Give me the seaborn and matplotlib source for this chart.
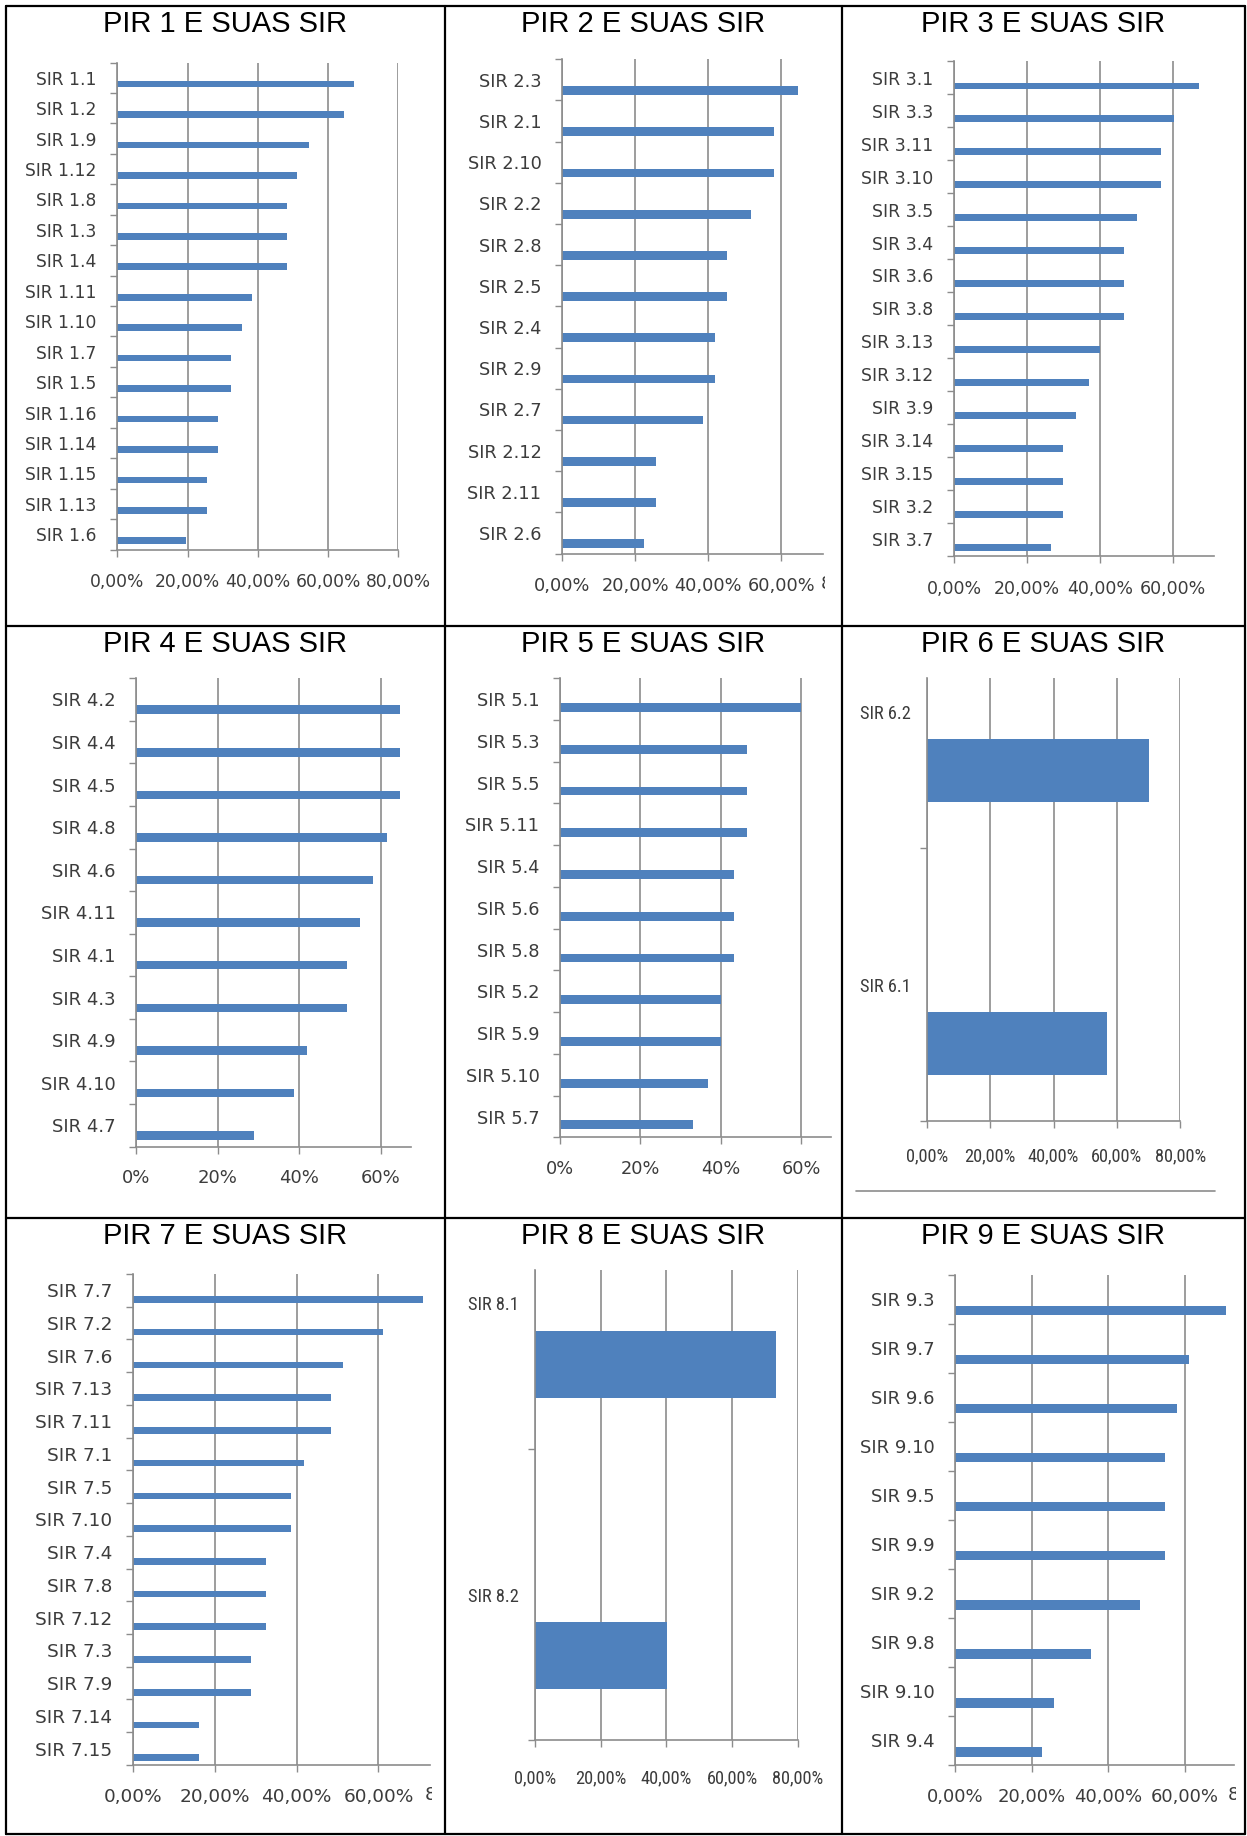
import numpy as np
import pandas as pd
import seaborn as sns
import matplotlib
matplotlib.use("Agg")
import matplotlib.pyplot as plt
from matplotlib import font_manager
from matplotlib.lines import Line2D
from matplotlib.transforms import Bbox, TransformedBbox

# ---------------- data ----------------
pir1_labels = ["SIR 1.1", "SIR 1.2", "SIR 1.9", "SIR 1.12", "SIR 1.8", "SIR 1.3", "SIR 1.4", "SIR 1.11",
               "SIR 1.10", "SIR 1.7", "SIR 1.5", "SIR 1.16", "SIR 1.14", "SIR 1.15", "SIR 1.13", "SIR 1.6"]
pir1_values = [67.4, 64.6, 54.5, 51.2, 48.4, 48.4, 48.4, 38.4, 35.6, 32.4, 32.4, 28.8, 28.8, 25.4, 25.4, 19.6]

pir2_labels = ["SIR 2.3", "SIR 2.1", "SIR 2.10", "SIR 2.2", "SIR 2.8", "SIR 2.5", "SIR 2.4", "SIR 2.9",
               "SIR 2.7", "SIR 2.12", "SIR 2.11", "SIR 2.6"]
pir2_values = [64.6, 58.0, 58.0, 51.7, 45.1, 45.1, 41.9, 41.9, 38.6, 25.7, 25.7, 22.4]

pir3_labels = ["SIR 3.1", "SIR 3.3", "SIR 3.11", "SIR 3.10", "SIR 3.5", "SIR 3.4", "SIR 3.6", "SIR 3.8",
               "SIR 3.13", "SIR 3.12", "SIR 3.9", "SIR 3.14", "SIR 3.15", "SIR 3.2", "SIR 3.7"]
pir3_values = [66.9, 60.1, 56.7, 56.7, 50.1, 46.5, 46.5, 46.5, 40.0, 36.8, 33.3, 29.7, 29.7, 29.7, 26.6]

pir4_labels = ["SIR 4.2", "SIR 4.4", "SIR 4.5", "SIR 4.8", "SIR 4.6", "SIR 4.11", "SIR 4.1", "SIR 4.3",
               "SIR 4.9", "SIR 4.10", "SIR 4.7"]
pir4_values = [64.8, 64.8, 64.8, 61.5, 58.1, 54.8, 51.7, 51.7, 42.0, 38.6, 28.9]

pir5_labels = ["SIR 5.1", "SIR 5.3", "SIR 5.5", "SIR 5.11", "SIR 5.4", "SIR 5.6", "SIR 5.8", "SIR 5.2",
               "SIR 5.9", "SIR 5.10", "SIR 5.7"]
pir5_values = [60.1, 46.6, 46.6, 46.6, 43.3, 43.3, 43.3, 40.1, 40.1, 36.9, 33.2]

pir6_labels = ["SIR 6.2", "SIR 6.1"]
pir6_values = [70.1, 56.9]

pir7_labels = ["SIR 7.7", "SIR 7.2", "SIR 7.6", "SIR 7.13", "SIR 7.11", "SIR 7.1", "SIR 7.5", "SIR 7.10",
               "SIR 7.4", "SIR 7.8", "SIR 7.12", "SIR 7.3", "SIR 7.9", "SIR 7.14", "SIR 7.15"]
pir7_values = [70.9, 61.1, 51.4, 48.3, 48.3, 41.7, 38.6, 38.6, 32.4, 32.4, 32.4, 28.9, 28.9, 16.1, 16.1]

pir8_labels = ["SIR 8.1", "SIR 8.2"]
pir8_values = [73.4, 40.2]

pir9_labels = ["SIR 9.3", "SIR 9.7", "SIR 9.6", "SIR 9.10", "SIR 9.5", "SIR 9.9", "SIR 9.2", "SIR 9.8",
               "SIR 9.10", "SIR 9.4"]
pir9_values = [70.6, 61.0, 57.8, 54.8, 54.8, 54.8, 48.2, 35.4, 25.7, 22.7]

titles = ["PIR 1 E SUAS SIR", "PIR 2 E SUAS SIR", "PIR 3 E SUAS SIR",
          "PIR 4 E SUAS SIR", "PIR 5 E SUAS SIR", "PIR 6 E SUAS SIR",
          "PIR 7 E SUAS SIR", "PIR 8 E SUAS SIR", "PIR 9 E SUAS SIR"]

# ---------------- style ----------------
sns.set_theme(style="white")
plt.rcParams["font.family"] = ["DejaVu Sans"]

avail = {f.name for f in font_manager.fontManager.ttflist}
NARROW = "DejaVu Sans"
for cand in ["Liberation Sans Narrow", "Roboto Condensed", "Open Sans Condensed", "DejaVu Sans Condensed",
             "Noto Sans"]:
    if cand in avail:
        NARROW = cand
        break
TITLE_FONT = "Liberation Sans" if "Liberation Sans" in avail else "DejaVu Sans"

BLUE = "#4F81BD"
GRID = "#8C8C8C"
TXT = "#3C3C3C"

W, H = 1247, 1836
fig = plt.figure(figsize=(W / 100, H / 100), dpi=100)
fig.patch.set_facecolor("white")

# cell borders
xs = [5.9, 445.0, 842.0, 1244.7]
ys = [5.9, 626.4, 1217.7, 1833.6]


def fx(px):
    return px / W


def fy(py):
    return 1 - py / H


for x in xs:
    fig.add_artist(Line2D([fx(x), fx(x)], [fy(ys[0]), fy(ys[-1])], color="black", lw=1.6))
for y in ys:
    fig.add_artist(Line2D([fx(xs[0]), fx(xs[-1])], [fy(y), fy(y)], color="black", lw=1.6))

# panel geometry: (left, right, top, bottom) pixel, xmax, bar offset, bar width, fmt, fontsize, narrow, clip80, ylim override
panels = [
    dict(lab=pir1_labels, val=pir1_values, box=(117.3, 398.3, 62.5, 549.6), xmax=80, off=0.21, bw=0.22, fmt="dec", fs=12.3, narrow=False, clip80=False, xpad=11.5),
    dict(lab=pir2_labels, val=pir2_values, box=(562.0, 823.0, 59.3, 553.6), xmax=71.4, off=0.26, bw=0.21, fmt="dec", fs=12.8, narrow=False, clip80=True, xpad=11.5),
    dict(lab=pir3_labels, val=pir3_values, box=(954.0, 1214.3, 61.3, 555.5), xmax=71.2, off=0.25, bw=0.21, fmt="dec", fs=12.5, narrow=False, clip80=False, xpad=13),
    dict(lab=pir4_labels, val=pir4_values, box=(136.0, 410.7, 678.2, 1146.6), xmax=67.3, off=0.24, bw=0.2, fmt="int", fs=13.0, narrow=False, clip80=False, xpad=11),
    dict(lab=pir5_labels, val=pir5_values, box=(560.0, 830.7, 678.2, 1137.4), xmax=67.4, off=0.2, bw=0.21, fmt="int", fs=12.8, narrow=False, clip80=False, xpad=11),
    dict(lab=pir6_labels, val=pir6_values, box=(926.7, 1180.3, 678.2, 1121.3), xmax=80, off=0.214, bw=0.23, fmt="dec", fs=13.2, narrow=True, clip80=False, xpad=14, ylim=(1.28, -0.337)),
    dict(lab=pir7_labels, val=pir7_values, box=(133.0, 430.0, 1273.9, 1764.9), xmax=72.6, off=0.28, bw=0.2, fmt="dec", fs=13.3, narrow=False, clip80=True, xpad=11.5),
    dict(lab=pir8_labels, val=pir8_values, box=(535.0, 797.7, 1269.9, 1740.1), xmax=80, off=0.21, bw=0.23, fmt="dec", fs=13.2, narrow=True, clip80=False, xpad=16, ylim=(1.28, -0.325)),
    dict(lab=pir9_labels, val=pir9_values, box=(955.0, 1234.3, 1274.7, 1764.9), xmax=72.8, off=0.23, bw=0.2, fmt="dec", fs=13.0, narrow=False, clip80=True, xpad=11.5),
]


def fmt_tick(v, kind):
    if kind == "int":
        return f"{int(v)}%"
    return f"{v:.2f}".replace(".", ",") + "%"


XTICKLEN = 5 * 0.72
for k, p in enumerate(panels):
    l, r, t, b = p["box"]
    ax = fig.add_axes([fx(l), fy(b), fx(r) - fx(l), (b - t) / H])
    labels, values = p["lab"], p["val"]
    n = len(labels)
    df = pd.DataFrame({"pos": list(range(n)), "val": values})
    sns.barplot(data=df, x="val", y="pos", orient="y", order=list(range(n)), color=BLUE,
                saturation=1, width=p["bw"], linewidth=0, ax=ax)
    off = p["off"]
    family = NARROW if p["narrow"] else "DejaVu Sans"

    if "ylim" in p:
        ax.set_ylim(*p["ylim"])
        bounds = [i - off + 0.5 for i in range(n)]
    else:
        ax.set_ylim(n - 0.5 - off, -0.5 - off)
        bounds = [i - off + 0.5 for i in range(-1, n)]

    ax.set_yticks([i - off for i in range(n)])
    ax.set_yticklabels(labels, fontsize=p["fs"], color=TXT, family=family)
    ax.set_yticks(bounds, minor=True)
    ax.tick_params(axis="y", which="major", length=0, pad=11.5 if p["narrow"] else 14.8, left=True)
    ax.tick_params(axis="y", which="minor", length=5, width=1, color=GRID, direction="out", left=True)

    ax.set_xlim(0, p["xmax"])
    xt = [v for v in [0, 20, 40, 60, 80] if v <= p["xmax"] + 1e-6]
    ax.set_xticks(xt)
    ax.set_xticklabels([fmt_tick(v, p["fmt"]) for v in xt], fontsize=p["fs"], color=TXT, family=family)
    ax.tick_params(axis="x", which="major", length=5, width=1, color=GRID, direction="out",
                   bottom=True, pad=p["xpad"])
    ax.set_xlabel("")
    ax.set_ylabel("")
    ax.xaxis.grid(True, color=GRID, lw=1.2)
    ax.yaxis.grid(False)
    ax.set_axisbelow(True)
    for s in ["top", "right"]:
        ax.spines[s].set_visible(False)
    for s in ["left", "bottom"]:
        ax.spines[s].set_color(GRID)
        ax.spines[s].set_linewidth(1.2)
    ax.set_facecolor("none")

    if p["clip80"]:
        txt = ax.annotate(fmt_tick(80, p["fmt"]), xy=(80, 0), xycoords=("data", "axes fraction"),
                          xytext=(0, -(XTICKLEN + p["xpad"])), textcoords="offset points",
                          ha="center", va="top", fontsize=p["fs"], color=TXT, annotation_clip=False)
        clip = TransformedBbox(Bbox([[fx(l) - 0.1, 0], [fx(r) + 1.5 / W, 1]]), fig.transFigure)
        txt.set_clip_box(clip)
        txt.set_clip_on(True)

    # title, centred in its cell
    col, row = k % 3, k // 3
    cx = (xs[col] + xs[col + 1]) / 2
    cy = ys[row] + 18.0
    fig.text(fx(cx), fy(cy), titles[k], ha="center", va="center", fontsize=21, color="black",
             family=TITLE_FONT)

# small grey rule under panel 6
fig.add_artist(Line2D([fx(856), fx(1215)], [fy(1191), fy(1191)], color=GRID, lw=1.2))

fig.savefig("out.png", dpi=100, facecolor="white")
